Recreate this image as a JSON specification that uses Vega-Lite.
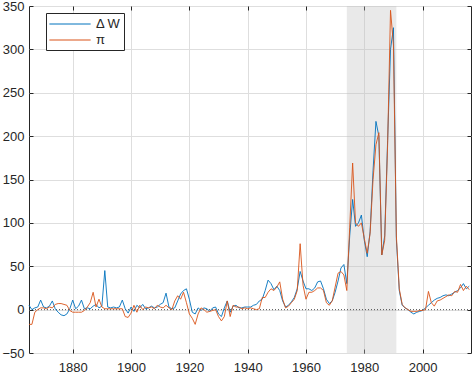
{
  "$schema": "https://vega.github.io/schema/vega-lite/v6.json",
  "autosize": "none",
  "width": 442,
  "height": 347,
  "padding": {"left": 29, "top": 6, "right": 3, "bottom": 23},
  "background": "white",
  "config": {
    "font": "Liberation Sans",
    "view": {"stroke": "#262626", "strokeWidth": 1},
    "axis": {"labelFont": "Liberation Sans", "labelFontSize": 13, "labelColor": "#262626", "domain": false, "tickColor": "#262626", "gridColor": "#dedede", "gridWidth": 1}
  },
  "datasets": {
    "main": [
      {"year":1865,"dW":5,"pi":-17},{"year":1866,"dW":0,"pi":-17},{"year":1867,"dW":2,"pi":-3},{"year":1868,"dW":3,"pi":0},{"year":1869,"dW":11,"pi":2},{"year":1870,"dW":3,"pi":2},{"year":1871,"dW":2,"pi":1},{"year":1872,"dW":4,"pi":3},{"year":1873,"dW":10,"pi":2},{"year":1874,"dW":1,"pi":6},{"year":1875,"dW":-3,"pi":7},{"year":1876,"dW":-6,"pi":7},{"year":1877,"dW":-7,"pi":6},{"year":1878,"dW":-5,"pi":5},{"year":1879,"dW":1,"pi":-1},
      {"year":1880,"dW":11,"pi":-3},{"year":1881,"dW":1,"pi":-3},{"year":1882,"dW":4,"pi":-3},{"year":1883,"dW":11,"pi":-3},{"year":1884,"dW":1,"pi":-1},{"year":1885,"dW":2,"pi":3},{"year":1886,"dW":1,"pi":8},{"year":1887,"dW":4,"pi":20},{"year":1888,"dW":6,"pi":3},{"year":1889,"dW":2,"pi":12},{"year":1890,"dW":4,"pi":3},{"year":1891,"dW":45,"pi":1},{"year":1892,"dW":3,"pi":1},{"year":1893,"dW":2,"pi":1},{"year":1894,"dW":3,"pi":1},{"year":1895,"dW":2,"pi":1},{"year":1896,"dW":3,"pi":1},{"year":1897,"dW":11,"pi":1},{"year":1898,"dW":1,"pi":-8},{"year":1899,"dW":-4,"pi":-9},
      {"year":1900,"dW":3,"pi":-4},{"year":1901,"dW":-2,"pi":5},{"year":1902,"dW":5,"pi":-3},{"year":1903,"dW":2,"pi":5},{"year":1904,"dW":6,"pi":0},{"year":1905,"dW":1,"pi":3},{"year":1906,"dW":2,"pi":2},{"year":1907,"dW":4,"pi":3},{"year":1908,"dW":2,"pi":1},{"year":1909,"dW":3,"pi":5},{"year":1910,"dW":6,"pi":3},{"year":1911,"dW":8,"pi":2},{"year":1912,"dW":19,"pi":5},{"year":1913,"dW":3,"pi":2},{"year":1914,"dW":1,"pi":0},{"year":1915,"dW":2,"pi":10},{"year":1916,"dW":10,"pi":16},{"year":1917,"dW":18,"pi":12},{"year":1918,"dW":22,"pi":20},{"year":1919,"dW":24,"pi":8},
      {"year":1920,"dW":12,"pi":-5},{"year":1921,"dW":-3,"pi":-10},{"year":1922,"dW":-5,"pi":-17},{"year":1923,"dW":2,"pi":-5},{"year":1924,"dW":-1,"pi":2},{"year":1925,"dW":2,"pi":0},{"year":1926,"dW":1,"pi":-3},{"year":1927,"dW":-2,"pi":-2},{"year":1928,"dW":2,"pi":-1},{"year":1929,"dW":3,"pi":0},{"year":1930,"dW":-5,"pi":-8},{"year":1931,"dW":-8,"pi":-13},{"year":1932,"dW":2,"pi":-8},{"year":1933,"dW":10,"pi":10},{"year":1934,"dW":-3,"pi":-8},{"year":1935,"dW":4,"pi":5},{"year":1936,"dW":5,"pi":3},{"year":1937,"dW":2,"pi":3},{"year":1938,"dW":2,"pi":1},{"year":1939,"dW":3,"pi":2},
      {"year":1940,"dW":3,"pi":1},{"year":1941,"dW":3,"pi":2},{"year":1942,"dW":5,"pi":1},{"year":1943,"dW":6,"pi":0},{"year":1944,"dW":10,"pi":1},{"year":1945,"dW":12,"pi":14},{"year":1946,"dW":22,"pi":14},{"year":1947,"dW":34,"pi":20},{"year":1948,"dW":30,"pi":24},{"year":1949,"dW":23,"pi":22},{"year":1950,"dW":27,"pi":26},{"year":1951,"dW":22,"pi":32},{"year":1952,"dW":10,"pi":12},{"year":1953,"dW":3,"pi":2},{"year":1954,"dW":5,"pi":4},{"year":1955,"dW":9,"pi":8},{"year":1956,"dW":14,"pi":12},{"year":1957,"dW":24,"pi":22},{"year":1958,"dW":44,"pi":76},{"year":1959,"dW":33,"pi":28},
      {"year":1960,"dW":24,"pi":12},{"year":1961,"dW":24,"pi":20},{"year":1962,"dW":22,"pi":20},{"year":1963,"dW":25,"pi":22},{"year":1964,"dW":32,"pi":25},{"year":1965,"dW":33,"pi":25},{"year":1966,"dW":24,"pi":22},{"year":1967,"dW":12,"pi":8},{"year":1968,"dW":7,"pi":5},{"year":1969,"dW":10,"pi":10},{"year":1970,"dW":20,"pi":26},{"year":1971,"dW":33,"pi":42},{"year":1972,"dW":48,"pi":44},{"year":1973,"dW":52,"pi":40},{"year":1974,"dW":30,"pi":22},{"year":1975,"dW":85,"pi":95},{"year":1976,"dW":127,"pi":169},{"year":1977,"dW":96,"pi":100},{"year":1978,"dW":100,"pi":96},{"year":1979,"dW":109,"pi":100},
      {"year":1980,"dW":80,"pi":82},{"year":1981,"dW":61,"pi":65},{"year":1982,"dW":90,"pi":88},{"year":1983,"dW":160,"pi":150},{"year":1984,"dW":217,"pi":190},{"year":1985,"dW":200,"pi":204},{"year":1986,"dW":63,"pi":63},{"year":1987,"dW":85,"pi":80},{"year":1988,"dW":195,"pi":190},{"year":1989,"dW":300,"pi":345},{"year":1990,"dW":325,"pi":305},{"year":1991,"dW":81,"pi":85},{"year":1992,"dW":22,"pi":24},{"year":1993,"dW":5,"pi":6},{"year":1994,"dW":2,"pi":2},{"year":1995,"dW":0,"pi":0},{"year":1996,"dW":-3,"pi":-2},{"year":1997,"dW":-5,"pi":-2},{"year":1998,"dW":-3,"pi":-2},{"year":1999,"dW":-2,"pi":-1},
      {"year":2000,"dW":-1,"pi":-1},{"year":2001,"dW":2,"pi":0},{"year":2002,"dW":5,"pi":21},{"year":2003,"dW":8,"pi":8},{"year":2004,"dW":11,"pi":4},{"year":2005,"dW":13,"pi":10},{"year":2006,"dW":14,"pi":11},{"year":2007,"dW":16,"pi":13},{"year":2008,"dW":17,"pi":15},{"year":2009,"dW":16,"pi":17},{"year":2010,"dW":18,"pi":16},{"year":2011,"dW":20,"pi":21},{"year":2012,"dW":22,"pi":20},{"year":2013,"dW":25,"pi":29},{"year":2014,"dW":30,"pi":22},{"year":2015,"dW":24,"pi":27},{"year":2016,"dW":27,"pi":23}
    ]
  },
  "resolve": {"axis": {"x": "independent", "y": "independent"}},
  "layer": [
    {
      "data": {"values": [{"start": 1974, "end": 1991}]},
      "mark": {"type": "rect", "fill": "#bfbfbf", "opacity": 0.35},
      "encoding": {
        "x": {"field": "start", "type": "quantitative", "scale": {"domain": [1865, 2016.6], "nice": false, "zero": false},
              "axis": {"orient": "top", "labels": false, "grid": false, "title": null, "values": [1880,1900,1920,1940,1960,1980,2000], "tickSize": -4}},
        "x2": {"field": "end"}
      }
    },
    {
      "data": {"values": [{"zero": 0}]},
      "mark": {"type": "rule", "color": "#262626", "strokeWidth": 0.8, "strokeDash": [1, 2]},
      "encoding": {
        "y": {"field": "zero", "type": "quantitative", "scale": {"domain": [-50, 350], "nice": false},
              "axis": {"orient": "right", "labels": false, "grid": false, "title": null, "values": [-50,0,50,100,150,200,250,300,350], "tickSize": -4}}
      }
    },
    {
      "data": {"name": "main"},
      "transform": [{"fold": ["dW", "pi"], "as": ["series", "value"]}],
      "mark": {"type": "line", "strokeWidth": 0.9},
      "encoding": {
        "x": {"field": "year", "type": "quantitative",
              "axis": {"orient": "bottom", "title": null, "format": "d", "values": [1880,1900,1920,1940,1960,1980,2000], "grid": true, "tickSize": -4, "labelPadding": 12}},
        "y": {"field": "value", "type": "quantitative",
              "axis": {"orient": "left", "title": null, "values": [-50,0,50,100,150,200,250,300,350], "grid": true, "tickSize": -4, "labelPadding": 9}},
        "color": {"field": "series", "type": "nominal",
                  "scale": {"domain": ["dW", "pi"], "range": ["#0072BD", "#D95319"]},
                  "legend": {"orient": "none", "legendX": 17, "legendY": 7, "title": null, "direction": "vertical",
                             "labelExpr": "datum.label == 'dW' ? 'Δ W' : 'π'",
                             "symbolType": "M-2.75,0H2.75", "symbolSize": 225, "symbolStrokeWidth": 1, "symbolOffset": 13,
                             "labelFontSize": 13, "labelColor": "#262626", "labelFont": "Liberation Sans",
                             "fillColor": "white", "strokeColor": "#262626", "padding": 3, "rowPadding": 1, "labelOffset": 18}},
        "order": {"field": "year", "type": "quantitative"}
      }
    }
  ]
}
